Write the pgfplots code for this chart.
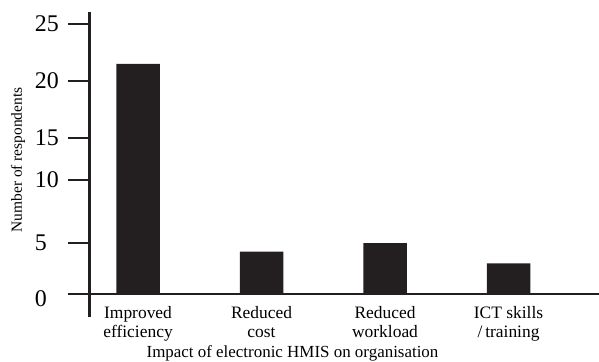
\documentclass[border=0pt]{standalone}
\usepackage{fontspec}
\setmainfont{Liberation Serif}
\usepackage{pgfplots}
\pgfplotsset{compat=1.18}
\definecolor{barblack}{HTML}{231F20}
\begin{document}
\begin{tikzpicture}
\begin{axis}[
  x=123.5bp, y=10.8bp,
  xmin=-0.393, xmax=3.733, ymin=-2.13, ymax=26.11,
  axis line style={draw=none},
  clip=false,
  ybar, bar width=43.5bp,
  xtick={0,1,2,3},
  xticklabels={Improved\\efficiency, Reduced\\cost, Reduced\\workload, ICT skills\\/\,training},
  x tick label style={align=center, font=\fontsize{17.5}{18.5}\selectfont, anchor=north, inner sep=0pt, yshift=32bp},
  xtick style={draw=none},
  ytick={0,4.72,10.56,14.44,19.72,25},
  yticklabels={\raisebox{-5bp}[\height][0pt]{0},5,10,15,20,25},
  tick pos=left,
  tick align=outside,
  major tick length=21.5bp,
  ytick style={line width=2.5bp, color=barblack},
  y tick label style={font=\fontsize{24}{24}\selectfont, text width=33bp, align=left, inner sep=0pt},
  xlabel={Impact of electronic HMIS on organisation},
  ylabel={Number of respondents},
  every axis x label/.style={at={(rel axis cs:0.3984,0)}, yshift=-40.3bp, anchor=base, font=\fontsize{17}{18}\selectfont},
  every axis y label/.style={at={(rel axis cs:0,0.515)}, xshift=-71.5bp, rotate=90, anchor=center, font=\fontsize{15.5}{17}\selectfont},
]
\addplot[fill=barblack, draw=none] coordinates {(0,21.3) (1,3.92) (2,4.72) (3,2.84)};
\coordinate (Z) at (axis cs:-0.393,0);
\draw[line width=2.5bp, barblack] (axis cs:-0.393,-2.13) -- (axis cs:-0.393,26.11);
\draw[line width=2.5bp, barblack] ([xshift=-16.5bp]axis cs:-0.393,0) -- (axis cs:3.733,0);
\end{axis}
\pgfresetboundingbox
\useasboundingbox ([shift={(-89.5bp,-68bp)}]Z) rectangle ([shift={(509.5bp,294bp)}]Z);
\end{tikzpicture}
\end{document}
